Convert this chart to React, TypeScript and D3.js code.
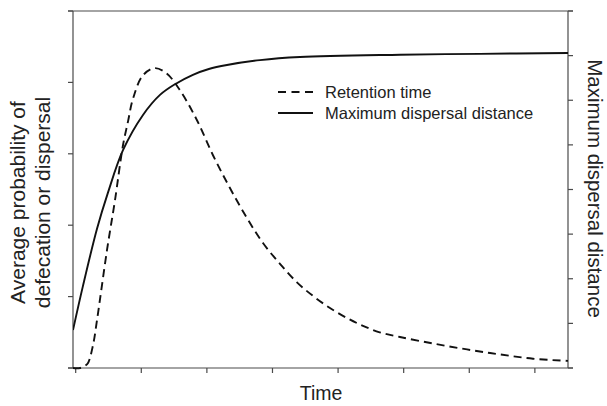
import React from "react";
import * as d3 from "d3";

const xTicks = [0, 1, 2, 3, 4, 5, 6, 7];
const leftTicks = [0, 1, 2, 3, 4, 5];
const rightTicks = [0, 1, 2, 3, 4, 5, 6, 7, 8];

const retentionT = [-0.041, 0.066, 0.142, 0.188, 0.264, 0.325, 0.477, 0.599, 0.721, 0.797, 0.873, 1.026, 1.209, 1.392, 1.59, 1.849, 2.093, 2.352, 2.611, 2.855, 3.114, 3.373, 3.617, 3.876, 4.136, 4.38, 4.634, 4.944, 5.447, 5.966, 6.469, 6.972, 7.505];
const retentionV = [0, 0, 0.03, 0.07, 0.32, 0.67, 1.65, 2.35, 3.12, 3.45, 3.77, 4.1, 4.2, 4.12, 3.89, 3.47, 2.98, 2.52, 2.1, 1.75, 1.46, 1.2, 1.01, 0.84, 0.7, 0.59, 0.5, 0.434, 0.343, 0.26, 0.19, 0.13, 0.1];

const dispersalT = [-0.041, 0.111, 0.325, 0.492, 0.721, 1.026, 1.285, 1.514, 1.787, 2.03, 2.306, 2.809, 3.419, 4.944, 6.163, 7.505];
const dispersalV = [0.85, 1.84, 3.12, 3.93, 4.88, 5.67, 6.12, 6.36, 6.57, 6.7, 6.79, 6.9, 6.97, 7.02, 7.04, 7.06];

const seriesNames = ["Retention time", "Maximum dispersal distance"];
const xLabel = "Time";
const leftLabel = ["Average probability of", "defecation or dispersal"];
const rightLabel = "Maximum dispersal distance";

export default function App() {
  const L = 73, R = 568, T = 11, B = 368;
  const x = d3.scaleLinear().domain([-0.041, 7.505]).range([L, R]);
  const yL = d3.scaleLinear().domain([0, 5]).range([B, T]);
  const yR = d3.scaleLinear().domain([0, 8]).range([B, T]);
  const axisColor = "#4a4a4a";
  const font = "'Liberation Sans', Arial, Helvetica, sans-serif";

  const retention = retentionT.map((t, i) => [t, retentionV[i]] as [number, number]);
  const dispersal = dispersalT.map((t, i) => [t, dispersalV[i]] as [number, number]);

  const curve = d3.curveCatmullRom.alpha(0.5);
  const lineL = d3.line<[number, number]>().x(d => x(d[0])).y(d => yL(d[1])).curve(curve);
  const lineR = d3.line<[number, number]>().x(d => x(d[0])).y(d => yR(d[1])).curve(curve);

  const tickLen = 5;
  const midY = (T + B) / 2;

  return (
    <svg width={607} height={406} style={{ position: "absolute", left: 0, top: 0, background: "#fff" }}>
      <defs>
        <clipPath id="plot">
          <rect x={L} y={T - 2} width={R - L} height={B - T + 4} />
        </clipPath>
      </defs>
      <g stroke={axisColor} strokeWidth={1.2} fill="none">
        <line x1={L - tickLen} x2={R + tickLen} y1={T} y2={T} />
        <line x1={L - tickLen} x2={R + tickLen} y1={B} y2={B} />
        <line x1={L} x2={L} y1={T} y2={B} />
        <line x1={R} x2={R} y1={T} y2={B} />
        {leftTicks.map(v => (
          <line key={"l" + v} x1={L - tickLen} x2={L} y1={yL(v)} y2={yL(v)} />
        ))}
        {rightTicks.map(v => (
          <line key={"r" + v} x1={R} x2={R + tickLen} y1={yR(v)} y2={yR(v)} />
        ))}
        {xTicks.map(v => (
          <line key={"x" + v} x1={x(v)} x2={x(v)} y1={B} y2={B + tickLen} />
        ))}
      </g>
      <g clipPath="url(#plot)" fill="none" stroke="#111" strokeWidth={1.9}>
        <path d={lineL(retention) || ""} strokeDasharray="8,5" />
        <path d={lineR(dispersal) || ""} />
      </g>
      <g fontFamily={font} fontSize={16.5} fill="#222">
        <line x1={278} x2={313} y1={92} y2={92} stroke="#111" strokeWidth={1.9} strokeDasharray="8,5.5" />
        <text x={325} y={98}>{seriesNames[0]}</text>
        <line x1={278} x2={313} y1={113} y2={113} stroke="#111" strokeWidth={1.9} />
        <text x={325} y={119}>{seriesNames[1]}</text>
      </g>
      <g fontFamily={font} fill="#222">
        <text x={321} y={400} fontSize={19.5} textAnchor="middle">{xLabel}</text>
        <text transform={`translate(25,${midY + 13}) rotate(-90)`} fontSize={21} textAnchor="middle">{leftLabel[0]}</text>
        <text transform={`translate(50,${midY + 13}) rotate(-90)`} fontSize={21} textAnchor="middle">{leftLabel[1]}</text>
        <text transform={`translate(588,${midY - 1}) rotate(90)`} fontSize={20.5} textAnchor="middle">{rightLabel}</text>
      </g>
    </svg>
  );
}
